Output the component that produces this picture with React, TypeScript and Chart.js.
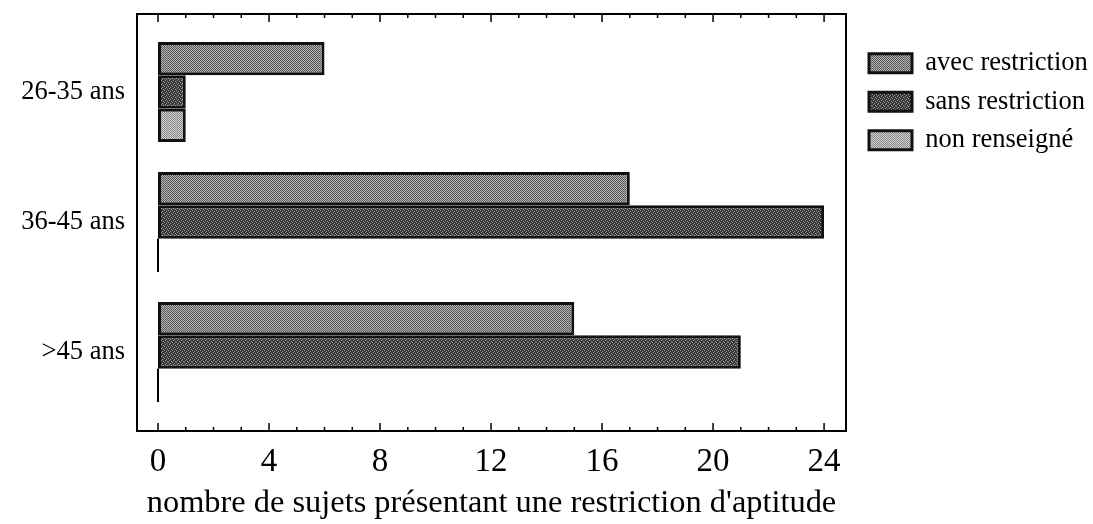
import React, { useEffect, useRef } from "react";
import { Chart, registerables } from "chart.js";

Chart.register(...registerables);

const categories = ["26-35 ans", "36-45 ans", ">45 ans"];
const seriesNames = ["avec restriction", "sans restriction", "non renseigné"];
const avecRestriction = [6, 17, 15];
const sansRestriction = [1, 24, 21];
const nonRenseigne = [1, 0, 0];
const xTickValues = [0, 1, 2, 3, 4, 5, 6, 7, 8, 9, 10, 11, 12, 13, 14, 15, 16, 17, 18, 19, 20, 21, 22, 23, 24];
const xLabelStep = 4;
const xTitle = "nombre de sujets présentant une restriction d'aptitude";

const FONT = "'Liberation Serif', 'Times New Roman', serif";

function makePattern(ctx: CanvasRenderingContext2D, rows: string[], dark: string, light: string) {
  const c = document.createElement("canvas");
  c.width = rows[0].length;
  c.height = rows.length;
  const g = c.getContext("2d")!;
  rows.forEach((r, y) => {
    for (let x = 0; x < r.length; x++) {
      g.fillStyle = r[x] === "L" ? light : dark;
      g.fillRect(x, y, 1, 1);
    }
  });
  return ctx.createPattern(c, "repeat") as CanvasPattern;
}

const framePlugin = {
  id: "frame",
  afterDatasetsDraw(chart: any) {
    const { ctx, chartArea: a } = chart;
    const x = chart.scales.x;
    ctx.save();
    ctx.strokeStyle = "#000";
    ctx.lineWidth = 2;
    ctx.strokeRect(a.left, a.top, a.right - a.left, a.bottom - a.top);
    ctx.lineWidth = 1.5;
    x.ticks.forEach((t: any) => {
      const px = x.getPixelForValue(t.value);
      const len = t.value % xLabelStep === 0 ? 8 : 4;
      ctx.beginPath();
      ctx.moveTo(px, a.bottom);
      ctx.lineTo(px, a.bottom - len);
      ctx.moveTo(px, a.top);
      ctx.lineTo(px, a.top + len);
      ctx.stroke();
    });
    ctx.lineWidth = 2;
    chart.data.datasets.forEach((ds: any, di: number) => {
      const meta = chart.getDatasetMeta(di);
      meta.data.forEach((el: any, i: number) => {
        if (ds.data[i].x === 0) {
          const { base, y, height } = el.getProps(["base", "y", "height"], true);
          ctx.beginPath();
          ctx.moveTo(base, y - height / 2);
          ctx.lineTo(base, y + height / 2);
          ctx.stroke();
        }
      });
    });
    ctx.restore();
  },
};

export default function App() {
  const ref = useRef<HTMLCanvasElement>(null);
  useEffect(() => {
    const canvas = ref.current!;
    const ctx = canvas.getContext("2d")!;
    const pAvec = makePattern(ctx, ["DL", "LD"], "#565656", "#b6b6b6");
    const pSans = makePattern(ctx, ["DLDD", "DDDL", "LDDD", "DDLD"], "#363636", "#9a9a9a");
    const pNon = makePattern(ctx, ["DL", "LD"], "#8a8a8a", "#cfcfcf");
    const series = [avecRestriction, sansRestriction, nonRenseigne];
    const fills = [pAvec, pSans, pNon];
    const chart = new Chart(canvas, {
      type: "bar",
      data: {
        datasets: series.map((vals, si) => ({
          label: seriesNames[si],
          data: vals.map((v, i) => ({ x: v, y: i })),
          backgroundColor: fills[si],
          borderColor: "#111",
          borderWidth: 3,
          borderSkipped: false,
          categoryPercentage: 0.77,
          barPercentage: 1,
        })),
      },
      options: {
        indexAxis: "y",
        animation: false,
        responsive: false,
        layout: { padding: { top: 14, right: 4, bottom: 0, left: 0 } },
        plugins: {
          tooltip: { enabled: false },
          legend: {
            position: "right",
            align: "start",
            maxWidth: 232,
            title: { display: true, text: " ", padding: 2, font: { size: 20, lineHeight: 1 } },
            labels: {
              boxWidth: 43,
              boxHeight: 19,
              padding: 12,
              color: "#000",
              font: { family: FONT, size: 26.5 },
            },
          },
        },
        scales: {
          x: {
            type: "linear",
            position: "bottom",
            min: -0.757,
            max: 24.79,
            offset: false,
            afterBuildTicks: (s: any) => {
              s.ticks = xTickValues.map((v) => ({ value: v }));
            },
            afterFit: (s: any) => {
              s.height = 93;
              s.paddingLeft = 0;
              s.paddingRight = 0;
            },
            grid: { display: false, drawTicks: false },
            border: { display: false },
            ticks: {
              autoSkip: false,
              maxRotation: 0,
              padding: 12,
              color: "#000",
              font: { family: FONT, size: 33 },
              callback: (v: any) => (Number(v) % xLabelStep === 0 ? String(v) : ""),
            },
            title: {
              display: true,
              text: xTitle,
              color: "#000",
              padding: { top: 0, bottom: 1 },
              font: { family: FONT, size: 32.4 },
            },
          },
          y: {
            type: "linear",
            position: "left",
            reverse: true,
            offset: false,
            min: -0.6,
            max: 2.608,
            afterBuildTicks: (s: any) => {
              s.ticks = categories.map((_, i) => ({ value: i }));
            },
            afterFit: (s: any) => {
              s.width = 137;
              s.paddingTop = 0;
              s.paddingBottom = 0;
            },
            grid: { display: false, drawTicks: false, offset: false },
            border: { display: false },
            ticks: {
              padding: 12,
              color: "#000",
              font: { family: FONT, size: 26.5 },
              callback: (v: any) => categories[Number(v)] ?? "",
            },
          },
          yRight: {
            type: "linear",
            position: "right",
            display: true,
            afterFit: (s: any) => {
              s.width = 11;
              s.paddingTop = 0;
              s.paddingBottom = 0;
            },
            grid: { display: false, drawTicks: false },
            border: { display: false },
            ticks: { display: false },
          },
        },
      },
      plugins: [framePlugin],
    } as any);
    return () => chart.destroy();
  }, []);
  return (
    <div style={{ position: "absolute", left: 0, top: 0, width: 1093, height: 524, background: "#fff" }}>
      <canvas ref={ref} width={1093} height={524} style={{ display: "block" }} />
    </div>
  );
}
